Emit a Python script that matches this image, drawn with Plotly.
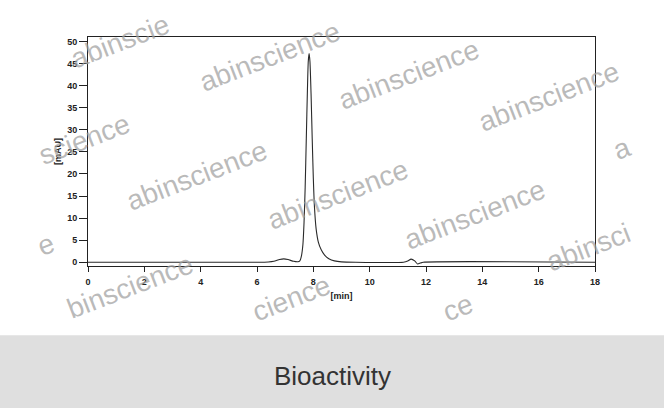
import plotly.graph_objects as go

# chromatogram
time_min = [0, 6.0, 6.4, 6.6, 6.8, 6.95, 7.1, 7.3, 7.45, 7.52, 7.58, 7.63, 7.67, 7.71,
            7.75, 7.79, 7.82, 7.85, 7.88, 7.92, 7.96, 8.0, 8.04, 8.1, 8.18, 8.28, 8.4,
            8.55, 8.75, 9.0, 9.5, 11.2, 11.35, 11.47, 11.6, 11.7, 11.8, 11.9, 18]
signal_mau = [0, 0.0, 0.05, 0.2, 0.6, 0.75, 0.6, 0.2, 0.1, 0.3, 1.5, 4, 9, 17,
              28, 39, 45.5, 47.3, 45.5, 38, 28, 19, 12.5, 7.5, 4.5, 2.8, 1.6,
              0.8, 0.3, 0.08, 0.0, 0.0, 0.25, 0.7, 0.3, -0.4, -0.2, 0.0, 0.0]

x_ticks = [0, 2, 4, 6, 8, 10, 12, 14, 16, 18]
y_ticks = [0, 5, 10, 15, 20, 25, 30, 35, 40, 45, 50]

# watermark texts and their pixel centres
wm_text = ["abinscie", "abinscience", "abinscience", "abinscience", "a",
           "science", "abinscience", "abinscience", "abinscience", "abinsci",
           "e", "binscience", "cience", "ce"]
wm_px = [(120, 42), (270, 57), (409, 75), (549, 97), (622, 149),
         (84, 140), (197, 176), (338, 195), (475, 215), (588, 248),
         (46, 245), (130, 287), (291, 299), (458, 308)]

L, R, T, B = 88, 595, 37, 266.5
W, H = 664, 408


def px2paper(x, y):
    return (x - L) / (R - L), (B - y) / (B - T)


fig = go.Figure(go.Scatter(x=time_min, y=signal_mau, mode='lines',
                           line=dict(color='#2a2a2a', width=1.1, shape='spline', smoothing=0.6),
                           showlegend=False, hoverinfo='skip'))

axis_font = dict(family='Liberation Sans, Arial', size=9, color='#222222', weight='bold')
fig.update_xaxes(range=[0, 18], tickvals=x_ticks, ticks='outside', ticklen=5, tickwidth=1,
                 tickcolor='#222', showline=True, linecolor='#222', linewidth=1, mirror=True,
                 showgrid=False, zeroline=False, tickfont=axis_font, ticklabelstandoff=2,
                 title=dict(text='[min]', font=axis_font, standoff=6))
fig.update_yaxes(range=[-0.86, 51.06], tickvals=y_ticks, ticks='outside', ticklen=8, tickwidth=1,
                 tickcolor='#222', showline=True, linecolor='#222', linewidth=1, mirror=True,
                 showgrid=False, zeroline=False, tickfont=axis_font, ticklabelstandoff=0,
                 title=dict(text='[mAU]', font=axis_font, standoff=4))

# grey caption band
x0, y0 = px2paper(-10, 336)
x1, y1 = px2paper(W + 10, H + 10)
fig.add_shape(type='rect', xref='paper', yref='paper', x0=x0, y0=y0, x1=x1, y1=y1,
              fillcolor='#dfdfdf', line_width=0, layer='below')
cx, cy = px2paper(332, 377)
fig.add_annotation(x=cx, y=cy, xref='paper', yref='paper', text='Bioactivity', showarrow=False,
                   xanchor='center', yanchor='middle',
                   font=dict(family='Liberation Sans, Arial', size=26, color='#333333'))

for t, (px, py) in zip(wm_text, wm_px):
    ax, ay = px2paper(px, py)
    fig.add_annotation(x=ax, y=ay, xref='paper', yref='paper', text=t, showarrow=False,
                       textangle=-21, xanchor='center', yanchor='middle',
                       font=dict(family='Liberation Sans, Arial', size=28, color='rgba(160,160,160,0.72)'))

fig.update_layout(width=W, height=H, margin=dict(l=L, r=W - R, t=T, b=H - B),
                  plot_bgcolor='white', paper_bgcolor='white')

# page body has an 8px default margin, drop it
fig.write_html("out.html", config={'displayModeBar': False},
               post_script="document.body.style.margin='0';")
